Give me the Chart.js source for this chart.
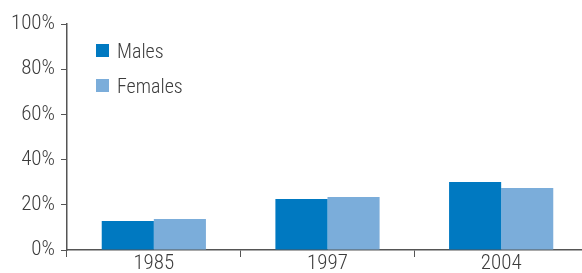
<!DOCTYPE html>
<html>
<head>
<meta charset="utf-8">
<script src="https://cdn.jsdelivr.net/npm/chart.js@4"></script>
<style>
  html, body { margin: 0; padding: 0; background: #fff; overflow: hidden; }
  #wrap { width: 588px; height: 273px; }
</style>
</head>
<body>
<div id="wrap"><canvas id="chart"></canvas></div>
<script>
// values (percent)
const years = ['1985', '1997', '2004'];
const males = [12.8, 22.6, 30.1];
const females = [13.7, 23.5, 27.4];
const yTicks = [0, 20, 40, 60, 80, 100];

const FONT = "'Roboto Condensed', 'DejaVu Sans Condensed', sans-serif";
const textColor = '#3c3c3c';
const axisColor = '#555';

// legend drawn inside the plot area, stacked vertically
const insideLegend = {
  id: 'insideLegend',
  afterDraw(chart) {
    const ctx = chart.ctx;
    const area = chart.chartArea;
    ctx.save();
    ctx.font = '300 20px ' + FONT;
    ctx.textBaseline = 'middle';
    chart.data.datasets.forEach((ds, i) => {
      const y = area.top + 20 + i * 35;
      ctx.fillStyle = ds.backgroundColor;
      ctx.fillRect(area.left + 29, y, 13, 13);
      ctx.fillStyle = textColor;
      ctx.fillText(ds.label, area.left + 50, y + 8.5);
    });
    ctx.restore();
  }
};

new Chart(document.getElementById('chart'), {
  type: 'bar',
  data: {
    labels: years,
    datasets: [
      { label: 'Males', data: males, backgroundColor: '#0079c1' },
      { label: 'Females', data: females, backgroundColor: '#7badda' }
    ]
  },
  options: {
    responsive: true,
    maintainAspectRatio: false,
    animation: false,
    devicePixelRatio: 1,
    layout: { padding: { top: 24, right: 0, left: 0, bottom: 0 } },
    datasets: { bar: { categoryPercentage: 0.6, barPercentage: 1.0 } },
    plugins: {
      legend: { display: false },
      tooltip: { enabled: false }
    },
    scales: {
      x: {
        grid: { drawOnChartArea: false, offset: true, tickLength: 7, color: axisColor, lineWidth: 1 },
        border: { color: axisColor, width: 1.5 },
        ticks: { color: textColor, font: { family: FONT, size: 21, weight: 300, lineHeight: 1 }, padding: -4 },
        afterFit(scale) { scale.height = 23; }
      },
      y: {
        min: 0,
        max: 100,
        afterBuildTicks(scale) { scale.ticks = yTicks.map(v => ({ value: v })); },
        grid: { drawOnChartArea: false, tickLength: 6, color: axisColor, lineWidth: 1 },
        border: { color: axisColor, width: 1.5 },
        ticks: {
          color: textColor,
          font: { family: FONT, size: 21, weight: 300 },
          padding: 6,
          callback: v => v + '%'
        },
        afterFit(scale) { scale.width = 67; }
      }
    }
  },
  plugins: [insideLegend]
});
</script>
</body>
</html>
